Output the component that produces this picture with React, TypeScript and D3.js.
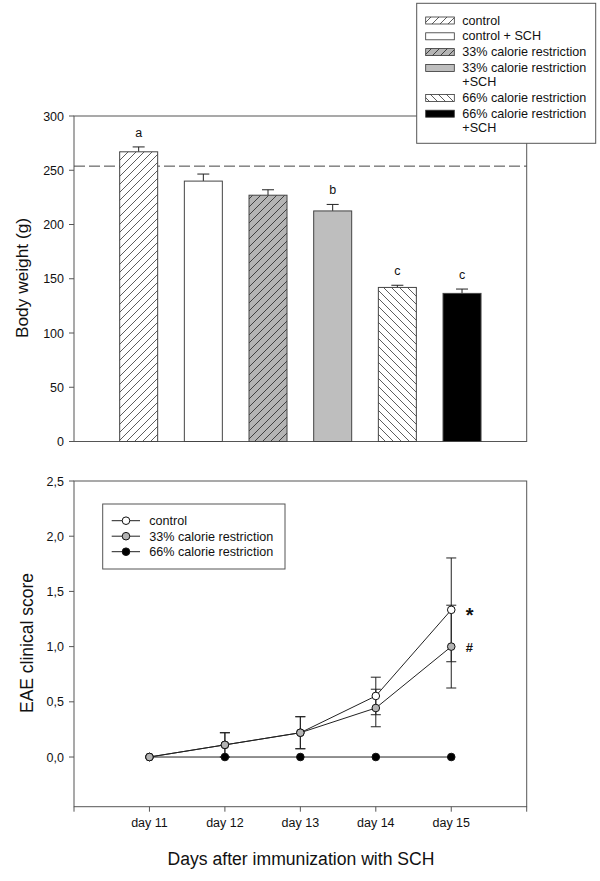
import React from "react";
import * as d3 from "d3";

// ---------- Data: top panel (body weight) ----------
const barGroups = [
  "control",
  "control + SCH",
  "33% calorie restriction",
  "33% calorie restriction\n+SCH",
  "66% calorie restriction",
  "66% calorie restriction\n+SCH",
];
const barMeans = [267, 240, 227, 212.5, 142, 136.5];
const barErrors = [4.5, 6.5, 5, 6, 2, 4];
const barLetters = ["a", "", "", "b", "c", "c"];
const baselineWeight = 253.8;
const weightTicks = [0, 50, 100, 150, 200, 250, 300];

// ---------- Data: bottom panel (EAE score) ----------
const days = [11, 12, 13, 14, 15];
const dayTicks = [10, 11, 12, 13, 14, 15, 16];
const seriesNames = ["control", "33% calorie restriction", "66% calorie restriction"];
const controlScore = [0, 0.11, 0.22, 0.553, 1.333];
const controlErr = [0, 0.11, 0.145, 0.17, 0.47];
const cr33Score = [0, 0.11, 0.22, 0.444, 1.0];
const cr33Err = [0, 0.11, 0.145, 0.17, 0.375];
const cr66Score = [0, 0, 0, 0, 0];
const cr66Err = [0, 0, 0, 0, 0];
const scoreTicks = [0, 0.5, 1.0, 1.5, 2.0, 2.5];
const signifMarks = [{ day: 15, value: 1.333, mark: "*" }, { day: 15, value: 1.0, mark: "#" }];

const FONT = "'Liberation Sans', Arial, sans-serif";
const AXIS = "#555";

export default function App() {
  const left = 74;
  const right = 526.7;

  // top scales
  const xBar = d3.scaleLinear().domain([0, 7]).range([left, right]);
  const yW = d3.scaleLinear().domain([0, 300]).range([441.5, 116]);
  const barW = 38;

  // bottom scales
  const xDay = d3.scaleLinear().domain([10, 16]).range([left, right]);
  const yS = d3.scaleLinear().domain([-0.45, 2.5]).range([806.7, 481]);

  const fills = ["url(#hatchF)", "#ffffff", "url(#hatchG)", "#bebebe", "url(#hatchB)", "#000000"];

  const fmt = (v: number) => d3.format(".1f")(v).replace(".", ",");

  const line = d3
    .line<number>()
    .x((_, i) => xDay(days[i]))
    .y((d) => yS(d));

  const series = [
    { name: seriesNames[2], vals: cr66Score, err: cr66Err, fill: "#000000" },
    { name: seriesNames[0], vals: controlScore, err: controlErr, fill: "#ffffff" },
    { name: seriesNames[1], vals: cr33Score, err: cr33Err, fill: "#b4b4b4" },
  ];
  const legendSeries = [series[1], series[2], series[0]];

  // top legend layout
  const lineH = 14.2;
  let cursor = 20;
  const legendRows = barGroups.map((label, i) => {
    const lines = label.split("\n");
    const y = cursor;
    cursor += lines.length * lineH + 1.6;
    return { lines, y, fill: fills[i] };
  });

  return (
    <svg
      width={600}
      height={881}
      style={{ position: "absolute", left: 0, top: 0, background: "#fff" }}
      fontFamily={FONT}
    >
      <defs>
        <pattern id="hatchF" patternUnits="userSpaceOnUse" width={8} height={8}>
          <rect width={8} height={8} fill="#fff" />
          <path d="M0,8 L8,0 M-2,2 L2,-2 M6,10 L10,6" stroke="#333" strokeWidth={0.8} />
        </pattern>
        <pattern id="hatchG" patternUnits="userSpaceOnUse" width={8} height={8}>
          <rect width={8} height={8} fill="#b4b4b4" />
          <path d="M0,8 L8,0 M-2,2 L2,-2 M6,10 L10,6" stroke="#222" strokeWidth={0.8} />
        </pattern>
        <pattern id="hatchB" patternUnits="userSpaceOnUse" width={8} height={8}>
          <rect width={8} height={8} fill="#fff" />
          <path d="M0,0 L8,8 M-2,6 L2,10 M6,-2 L10,2" stroke="#333" strokeWidth={0.8} />
        </pattern>
      </defs>

      {/* ===== TOP PANEL ===== */}
      <rect x={left} y={yW(300)} width={right - left} height={yW(0) - yW(300)} fill="none" stroke={AXIS} strokeWidth={1} />
      {weightTicks.map((t) => (
        <g key={t}>
          <line x1={left - 5} x2={left} y1={yW(t)} y2={yW(t)} stroke={AXIS} />
          <text x={left - 10} y={yW(t)} dy="0.36em" textAnchor="end" fontSize={12.5} fill="#111">
            {t}
          </text>
        </g>
      ))}
      <text transform={`translate(28,278) rotate(-90)`} textAnchor="middle" fontSize={17.3} fill="#111">
        Body weight (g)
      </text>
      <line x1={left} x2={right} y1={yW(baselineWeight)} y2={yW(baselineWeight)} stroke="#444" strokeDasharray="11,4" strokeWidth={1} />
      {barMeans.map((m, i) => {
        const cx = xBar(i + 1);
        const top = yW(m + barErrors[i]);
        return (
          <g key={i}>
            <line x1={cx} x2={cx} y1={yW(m)} y2={top} stroke="#222" />
            <line x1={cx - 6} x2={cx + 6} y1={top} y2={top} stroke="#222" />
            <rect x={cx - barW / 2} y={yW(m)} width={barW} height={yW(0) - yW(m)} fill={fills[i]} stroke="#444" strokeWidth={1} />
            {barLetters[i] && (
              <text x={cx} y={top - 10} textAnchor="middle" fontSize={12.5} fill="#111">
                {barLetters[i]}
              </text>
            )}
          </g>
        );
      })}
      <rect x={416.7} y={3.3} width={179} height={140} fill="#fff" stroke={AXIS} strokeWidth={1} />
      {legendRows.map((r, i) => (
        <g key={i}>
          <rect x={425.7} y={r.y - 3} width={28.6} height={7} fill={r.fill} stroke="#333" strokeWidth={0.8} />
          {r.lines.map((ln, j) => (
            <text key={j} x={462.3} y={r.y + j * lineH} dy="0.36em" fontSize={12.6} fill="#111">
              {ln}
            </text>
          ))}
        </g>
      ))}

      {/* ===== BOTTOM PANEL ===== */}
      <rect x={left} y={yS(2.5)} width={right - left} height={yS(-0.45) - yS(2.5)} fill="none" stroke={AXIS} strokeWidth={1} />
      {scoreTicks.map((t) => (
        <g key={t}>
          <line x1={left - 5} x2={left} y1={yS(t)} y2={yS(t)} stroke={AXIS} />
          <text x={left - 10} y={yS(t)} dy="0.36em" textAnchor="end" fontSize={12.5} fill="#111">
            {fmt(t)}
          </text>
        </g>
      ))}
      {dayTicks.map((d) => (
        <g key={d}>
          <line x1={xDay(d)} x2={xDay(d)} y1={yS(-0.45)} y2={yS(-0.45) + 5} stroke={AXIS} />
          {days.includes(d) && (
            <text x={xDay(d)} y={827} textAnchor="middle" fontSize={12.5} fill="#111">
              {`day ${d}`}
            </text>
          )}
        </g>
      ))}
      <text transform={`translate(33,643) rotate(-90)`} textAnchor="middle" fontSize={17.5} fill="#111">
        EAE clinical score
      </text>
      <text x={301} y={865} textAnchor="middle" fontSize={17.6} fill="#111">
        Days after immunization with SCH
      </text>

      {series.map((s) => (
        <g key={s.name}>
          <path d={line(s.vals) || ""} fill="none" stroke="#222" strokeWidth={1} />
          {s.vals.map((v, i) =>
            s.err[i] > 0 ? (
              <g key={i}>
                <line x1={xDay(days[i])} x2={xDay(days[i])} y1={yS(v - s.err[i])} y2={yS(v + s.err[i])} stroke="#222" />
                <line x1={xDay(days[i]) - 5} x2={xDay(days[i]) + 5} y1={yS(v + s.err[i])} y2={yS(v + s.err[i])} stroke="#222" />
                <line x1={xDay(days[i]) - 5} x2={xDay(days[i]) + 5} y1={yS(v - s.err[i])} y2={yS(v - s.err[i])} stroke="#222" />
              </g>
            ) : null
          )}
        </g>
      ))}
      {series.map((s) => (
        <g key={s.name + "m"}>
          {s.vals.map((v, i) => (
            <circle key={i} cx={xDay(days[i])} cy={yS(v)} r={3.8} fill={s.fill} stroke="#111" strokeWidth={1} />
          ))}
        </g>
      ))}
      {signifMarks.map((m, i) => (
        <text
          key={i}
          x={xDay(m.day) + 14.5}
          y={yS(m.value) + (m.mark === "*" ? 12 : 5)}
          fontSize={m.mark === "*" ? 20 : 13}
          fontWeight="bold"
          fill="#111"
        >
          {m.mark}
        </text>
      ))}

      <rect x={102.7} y={504} width={182.3} height={65} fill="#fff" stroke={AXIS} strokeWidth={1} />
      {legendSeries.map((s, i) => {
        const y = 520.7 + i * 15.5;
        return (
          <g key={s.name}>
            <line x1={111.7} x2={140} y1={y} y2={y} stroke="#222" />
            <circle cx={126} cy={y} r={3.8} fill={s.fill} stroke="#111" />
            <text x={149.3} y={y} dy="0.36em" fontSize={12.6} fill="#111">
              {s.name}
            </text>
          </g>
        );
      })}
    </svg>
  );
}
